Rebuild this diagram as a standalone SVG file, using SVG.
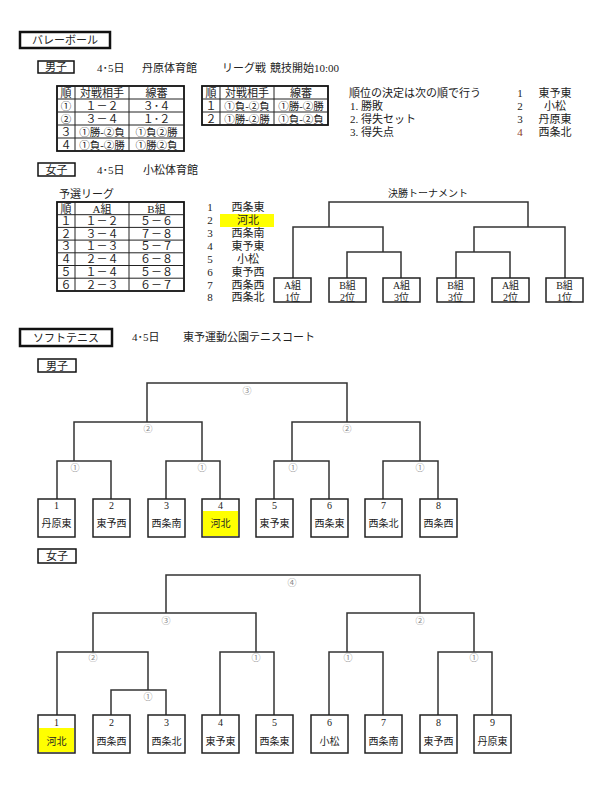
<svg xmlns="http://www.w3.org/2000/svg" width="600" height="800" viewBox="0 0 600 800">
<style>
text{font-family:"Liberation Serif","Noto Sans CJK JP",serif;font-size:11px;fill:#222}
.j{font-size:10.5px}
.c{text-anchor:middle}
.s{font-size:10px}
.lab{font-size:9px;fill:#888;text-anchor:middle}
.title{fill:#fff;stroke:#111;stroke-width:2.5}
.tag{fill:#fff;stroke:#111;stroke-width:1.5}
.outer{fill:none;stroke:#111;stroke-width:1.8}
.grid{fill:none;stroke:#222;stroke-width:1}
.box{fill:#fff;stroke:#222;stroke-width:1.5}
.hl{fill:#ffff00}
.ln{fill:none;stroke:#333;stroke-width:1.5}
</style>
<rect width="600" height="800" fill="#fff"/>

<!-- Volleyball header -->
<g id="vb-title"><rect class="title" x="20" y="32" width="90" height="16"/><text class="c" x="65" y="44">バレーボール</text></g>
<g id="vb-men-tag"><rect class="tag" x="38" y="61" width="36" height="12"/><text class="c" x="56" y="71">男子</text></g>
<g id="vb-men-info"><text x="97" y="72">4･5日</text><text x="142" y="72">丹原体育館</text><text x="222" y="72">リーグ戦</text><text x="270" y="72">競技開始10:00</text></g>

<g id="vb-men-table1">
<rect class="outer" x="57" y="86" width="127" height="65"/>
<path class="grid" d="M75,86V151M129,86V151M57,99H184M57,112H184M57,125H184M57,138H184"/>
<text class="c" x="66" y="96.5">順</text><text class="c" x="102" y="96.5">対戦相手</text><text class="c" x="156.5" y="96.5">線審</text>
<text class="c j" x="66" y="109.5">①</text><text class="c" x="102" y="109.5">１－２</text><text class="c" x="156.5" y="109.5">３･４</text>
<text class="c j" x="66" y="122.5">②</text><text class="c" x="102" y="122.5">３－４</text><text class="c" x="156.5" y="122.5">１･２</text>
<text class="c" x="66" y="135.5">３</text><text class="c j" x="102" y="135.5">①勝-②負</text><text class="c j" x="156.5" y="135.5">①負②勝</text>
<text class="c" x="66" y="148.5">４</text><text class="c j" x="102" y="148.5">①負-②勝</text><text class="c j" x="156.5" y="148.5">①勝②負</text>
</g>

<g id="vb-men-table2">
<rect class="outer" x="202" y="86" width="126" height="39"/>
<path class="grid" d="M220,86V125M274,86V125M202,99H328M202,112H328"/>
<text class="c" x="211" y="96.5">順</text><text class="c" x="247" y="96.5">対戦相手</text><text class="c" x="301" y="96.5">線審</text>
<text class="c" x="211" y="109.5">１</text><text class="c j" x="247" y="109.5">①負-②負</text><text class="c j" x="301" y="109.5">①勝-②勝</text>
<text class="c" x="211" y="122.5">２</text><text class="c j" x="247" y="122.5">①勝-②勝</text><text class="c j" x="301" y="122.5">①負-②負</text>
</g>

<g id="vb-men-rules">
<text x="349" y="97">順位の決定は次の順で行う</text>
<text x="350" y="110">1. 勝敗</text>
<text x="350" y="123">2. 得失セット</text>
<text x="350" y="136">3. 得失点</text>
</g>
<g id="vb-men-result">
<text class="c" x="520" y="97">1</text><text class="c" x="555" y="97">東予東</text>
<text class="c" x="520" y="110">2</text><text class="c" x="555" y="110">小松</text>
<text class="c" x="520" y="123">3</text><text class="c" x="555" y="123">丹原東</text>
<text class="c" x="520" y="136" style="fill:#8b3a2a">4</text><text class="c" x="555" y="136">西条北</text>
</g>

<!-- Volleyball women -->
<g id="vb-women-tag"><rect class="tag" x="38" y="163" width="37" height="13"/><text class="c" x="56.5" y="173.5">女子</text></g>
<g id="vb-women-info"><text x="97" y="174">4･5日</text><text x="143" y="174">小松体育館</text></g>
<g id="vb-women-league">
<text x="59" y="198">予選リーグ</text>
<rect class="outer" x="57" y="202" width="127" height="89"/>
<path class="grid" d="M75,202V291M129,202V291M57,214.7H184M57,227.4H184M57,240.1H184M57,252.8H184M57,265.5H184M57,278.2H184"/>
<text class="c" x="66" y="212.5">順</text><text class="c" x="102" y="212.5">A組</text><text class="c" x="156.5" y="212.5">B組</text>
<text class="c" x="66" y="225">１</text><text class="c" x="102" y="225">１－２</text><text class="c" x="156.5" y="225">５－６</text>
<text class="c" x="66" y="237.7">２</text><text class="c" x="102" y="237.7">３－４</text><text class="c" x="156.5" y="237.7">７－８</text>
<text class="c" x="66" y="250.4">３</text><text class="c" x="102" y="250.4">１－３</text><text class="c" x="156.5" y="250.4">５－７</text>
<text class="c" x="66" y="263.1">４</text><text class="c" x="102" y="263.1">２－４</text><text class="c" x="156.5" y="263.1">６－８</text>
<text class="c" x="66" y="275.8">５</text><text class="c" x="102" y="275.8">１－４</text><text class="c" x="156.5" y="275.8">５－８</text>
<text class="c" x="66" y="288.5">６</text><text class="c" x="102" y="288.5">２－３</text><text class="c" x="156.5" y="288.5">６－７</text>
</g>
<g id="vb-women-teams">
<rect class="hl" x="220" y="214" width="54" height="13"/>
<text class="c" x="210" y="211">1</text><text class="c" x="248" y="211">西条東</text>
<text class="c" x="210" y="224">2</text><text class="c" x="248" y="224">河北</text>
<text class="c" x="210" y="237">3</text><text class="c" x="248" y="237">西条南</text>
<text class="c" x="210" y="250">4</text><text class="c" x="248" y="250">東予東</text>
<text class="c" x="210" y="262.5">5</text><text class="c" x="248" y="262.5">小松</text>
<text class="c" x="210" y="275.5">6</text><text class="c" x="248" y="275.5">東予西</text>
<text class="c" x="210" y="288.5">7</text><text class="c" x="248" y="288.5">西条西</text>
<text class="c" x="210" y="301">8</text><text class="c" x="248" y="301">西条北</text>
</g>
<text class="c s" x="428" y="197">決勝トーナメント</text>

<g id="vb-connectors">
<path class="ln" d="M329,227V202H528V227"/>
<path class="ln" d="M293,278V227H383V252"/>
<path class="ln" d="M347,278V252H401V278"/>
<path class="ln" d="M565,278V227H474V252"/>
<path class="ln" d="M456,278V252H510V278"/>
</g>
<g id="vb-f1"><rect class="box" x="274" y="278" width="37" height="24"/><text class="c s" x="292.5" y="289">A組</text><text class="c s" x="292.5" y="300.5">1位</text></g>
<g id="vb-f2"><rect class="box" x="329" y="278" width="37" height="24"/><text class="c s" x="347.5" y="289">B組</text><text class="c s" x="347.5" y="300.5">2位</text></g>
<g id="vb-f3"><rect class="box" x="383" y="278" width="37" height="24"/><text class="c s" x="401.5" y="289">A組</text><text class="c s" x="401.5" y="300.5">3位</text></g>
<g id="vb-f4"><rect class="box" x="437" y="278" width="37" height="24"/><text class="c s" x="455.5" y="289">B組</text><text class="c s" x="455.5" y="300.5">3位</text></g>
<g id="vb-f5"><rect class="box" x="492" y="278" width="37" height="24"/><text class="c s" x="510.5" y="289">A組</text><text class="c s" x="510.5" y="300.5">2位</text></g>
<g id="vb-f6"><rect class="box" x="546" y="278" width="37" height="24"/><text class="c s" x="564.5" y="289">B組</text><text class="c s" x="564.5" y="300.5">1位</text></g>

<!-- Soft tennis -->
<g id="st-title"><rect class="title" x="20" y="329" width="92" height="17"/><text class="c" x="66" y="341.5">ソフトテニス</text></g>
<g id="st-info"><text x="132" y="341">4･5日</text><text x="183" y="341">東予運動公園テニスコート</text></g>
<g id="st-men-tag"><rect class="tag" x="38" y="359" width="38" height="13"/><text class="c" x="57" y="369.5">男子</text></g>

<g id="st-men-connectors">
<path class="ln" d="M147,422V383H347V422"/>
<path class="ln" d="M74,461V422H202V461"/>
<path class="ln" d="M292,461V422H420V461"/>
<path class="ln" d="M57,499V461H111V499"/>
<path class="ln" d="M166,499V461H220V499"/>
<path class="ln" d="M274,499V461H329V499"/>
<path class="ln" d="M383,499V461H438V499"/>
<text class="lab" x="247" y="393.5">③</text>
<text class="lab" x="148" y="431.5">②</text>
<text class="lab" x="347" y="431.5">②</text>
<text class="lab" x="75" y="470.5">①</text>
<text class="lab" x="202" y="470.5">①</text>
<text class="lab" x="293" y="470.5">①</text>
<text class="lab" x="420" y="470.5">①</text>
</g>
<g id="st-m1"><rect class="box" x="38" y="499" width="37" height="38"/><text class="c s" x="56.5" y="509">1</text><text class="c s" x="56.5" y="527">丹原東</text></g>
<g id="st-m2"><rect class="box" x="93" y="499" width="37" height="38"/><text class="c s" x="111.5" y="509">2</text><text class="c s" x="111.5" y="527">東予西</text></g>
<g id="st-m3"><rect class="box" x="148" y="499" width="37" height="38"/><text class="c s" x="166.5" y="509">3</text><text class="c s" x="166.5" y="527">西条南</text></g>
<g id="st-m4"><rect class="box" x="202" y="499" width="37" height="38"/><rect class="hl" x="203" y="511" width="35" height="25"/><text class="c s" x="220.5" y="509">4</text><text class="c s" x="220.5" y="527">河北</text></g>
<g id="st-m5"><rect class="box" x="256" y="499" width="37" height="38"/><text class="c s" x="274.5" y="509">5</text><text class="c s" x="274.5" y="527">東予東</text></g>
<g id="st-m6"><rect class="box" x="311" y="499" width="37" height="38"/><text class="c s" x="329.5" y="509">6</text><text class="c s" x="329.5" y="527">西条東</text></g>
<g id="st-m7"><rect class="box" x="365" y="499" width="37" height="38"/><text class="c s" x="383.5" y="509">7</text><text class="c s" x="383.5" y="527">西条北</text></g>
<g id="st-m8"><rect class="box" x="420" y="499" width="37" height="38"/><text class="c s" x="438.5" y="509">8</text><text class="c s" x="438.5" y="527">西条西</text></g>

<g id="st-women-tag"><rect class="tag" x="38" y="549" width="38" height="14"/><text class="c" x="57" y="560">女子</text></g>
<g id="st-women-connectors">
<path class="ln" d="M166,613V575H420V613"/>
<path class="ln" d="M93,652V613H256V652"/>
<path class="ln" d="M347,652V613H474V652"/>
<path class="ln" d="M57,715V652H148V690"/>
<path class="ln" d="M111,715V690H166V715"/>
<path class="ln" d="M220,715V652H274V715"/>
<path class="ln" d="M329,715V652H383V715"/>
<path class="ln" d="M438,715V652H492V715"/>
<text class="lab" x="292" y="585.5">④</text>
<text class="lab" x="166" y="623.5">③</text>
<text class="lab" x="420" y="623.5">②</text>
<text class="lab" x="93" y="661">②</text>
<text class="lab" x="256" y="661">①</text>
<text class="lab" x="348" y="661">①</text>
<text class="lab" x="474" y="661">①</text>
<text class="lab" x="148" y="699.5">①</text>
</g>
<g id="st-w1"><rect class="box" x="38" y="715" width="37" height="38"/><rect class="hl" x="39" y="728" width="35" height="24"/><text class="c s" x="56.5" y="726">1</text><text class="c s" x="56.5" y="745">河北</text></g>
<g id="st-w2"><rect class="box" x="93" y="715" width="37" height="38"/><text class="c s" x="111.5" y="726">2</text><text class="c s" x="111.5" y="745">西条西</text></g>
<g id="st-w3"><rect class="box" x="148" y="715" width="37" height="38"/><text class="c s" x="166.5" y="726">3</text><text class="c s" x="166.5" y="745">西条北</text></g>
<g id="st-w4"><rect class="box" x="202" y="715" width="37" height="38"/><text class="c s" x="220.5" y="726">4</text><text class="c s" x="220.5" y="745">東予東</text></g>
<g id="st-w5"><rect class="box" x="256" y="715" width="37" height="38"/><text class="c s" x="274.5" y="726">5</text><text class="c s" x="274.5" y="745">西条東</text></g>
<g id="st-w6"><rect class="box" x="311" y="715" width="37" height="38"/><text class="c s" x="329.5" y="726">6</text><text class="c s" x="329.5" y="745">小松</text></g>
<g id="st-w7"><rect class="box" x="365" y="715" width="37" height="38"/><text class="c s" x="383.5" y="726">7</text><text class="c s" x="383.5" y="745">西条南</text></g>
<g id="st-w8"><rect class="box" x="420" y="715" width="37" height="38"/><text class="c s" x="438.5" y="726">8</text><text class="c s" x="438.5" y="745">東予西</text></g>
<g id="st-w9"><rect class="box" x="474" y="715" width="37" height="38"/><text class="c s" x="492.5" y="726">9</text><text class="c s" x="492.5" y="745">丹原東</text></g>
</svg>
